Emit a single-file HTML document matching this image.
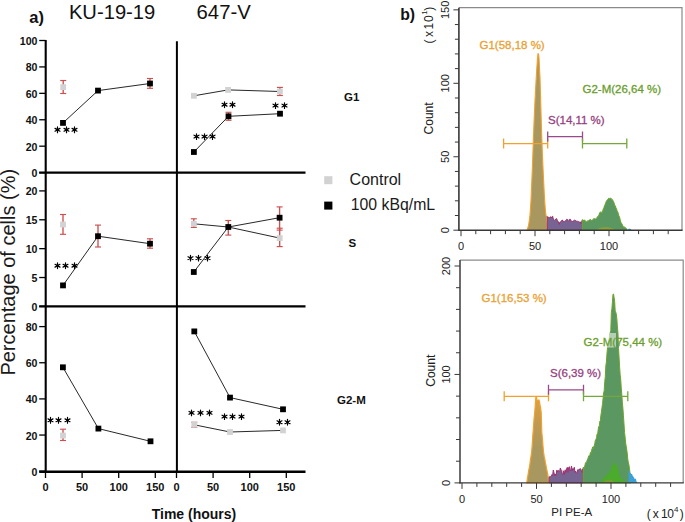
<!DOCTYPE html>
<html><head><meta charset="utf-8"><style>
html,body{margin:0;padding:0;background:#fff;}
body{width:685px;height:522px;overflow:hidden;font-family:"Liberation Sans", sans-serif;}
svg{display:block;}
</style></head><body>
<svg width="685" height="522" viewBox="0 0 685 522" font-family='"Liberation Sans", sans-serif'><rect width="685" height="522" fill="#fff"/><text x="29.3" y="22.5" font-size="16.5" font-weight="bold" text-anchor="start" fill="#111" >a)</text><text x="68.9" y="18.6" font-size="20.2" font-weight="normal" text-anchor="start" fill="#111" >KU-19-19</text><text x="196.6" y="18.8" font-size="20.3" font-weight="normal" text-anchor="start" fill="#111" >647-V</text><text transform="translate(15,375.6) rotate(-90)" font-size="20" fill="#1a1a1a">Percentage of cells (%)</text><line x1="45.7" y1="40.0" x2="45.7" y2="472.5" stroke="#000" stroke-width="2.1" /><line x1="176.9" y1="41.2" x2="176.9" y2="472.5" stroke="#000" stroke-width="2.0" /><line x1="39.2" y1="172.6" x2="305.5" y2="172.6" stroke="#000" stroke-width="2.3" /><line x1="39.2" y1="306.4" x2="305.5" y2="306.4" stroke="#000" stroke-width="2.1" /><line x1="39.2" y1="471.8" x2="305.5" y2="471.8" stroke="#000" stroke-width="2.4" /><line x1="39.2" y1="40.5" x2="45.7" y2="40.5" stroke="#000" stroke-width="1.3" /><text transform="translate(37.5,45.00) scale(0.93,1)" font-size="11.4" font-weight="bold" text-anchor="end" fill="#111">100</text><line x1="39.2" y1="66.92" x2="45.7" y2="66.92" stroke="#000" stroke-width="1.3" /><text transform="translate(37.5,71.42) scale(0.93,1)" font-size="11.4" font-weight="bold" text-anchor="end" fill="#111">80</text><line x1="39.2" y1="93.34" x2="45.7" y2="93.34" stroke="#000" stroke-width="1.3" /><text transform="translate(37.5,97.84) scale(0.93,1)" font-size="11.4" font-weight="bold" text-anchor="end" fill="#111">60</text><line x1="39.2" y1="119.75999999999999" x2="45.7" y2="119.75999999999999" stroke="#000" stroke-width="1.3" /><text transform="translate(37.5,124.26) scale(0.93,1)" font-size="11.4" font-weight="bold" text-anchor="end" fill="#111">40</text><line x1="39.2" y1="146.18" x2="45.7" y2="146.18" stroke="#000" stroke-width="1.3" /><text transform="translate(37.5,150.68) scale(0.93,1)" font-size="11.4" font-weight="bold" text-anchor="end" fill="#111">20</text><line x1="39.2" y1="172.6" x2="45.7" y2="172.6" stroke="#000" stroke-width="1.3" /><text transform="translate(37.5,177.10) scale(0.93,1)" font-size="11.4" font-weight="bold" text-anchor="end" fill="#111">0</text><line x1="39.2" y1="190.89999999999998" x2="45.7" y2="190.89999999999998" stroke="#000" stroke-width="1.3" /><text transform="translate(37.5,195.40) scale(0.93,1)" font-size="11.4" font-weight="bold" text-anchor="end" fill="#111">20</text><line x1="39.2" y1="219.77499999999998" x2="45.7" y2="219.77499999999998" stroke="#000" stroke-width="1.3" /><text transform="translate(37.5,224.27) scale(0.93,1)" font-size="11.4" font-weight="bold" text-anchor="end" fill="#111">15</text><line x1="39.2" y1="248.64999999999998" x2="45.7" y2="248.64999999999998" stroke="#000" stroke-width="1.3" /><text transform="translate(37.5,253.15) scale(0.93,1)" font-size="11.4" font-weight="bold" text-anchor="end" fill="#111">10</text><line x1="39.2" y1="277.525" x2="45.7" y2="277.525" stroke="#000" stroke-width="1.3" /><text transform="translate(37.5,282.02) scale(0.93,1)" font-size="11.4" font-weight="bold" text-anchor="end" fill="#111">5</text><line x1="39.2" y1="306.4" x2="45.7" y2="306.4" stroke="#000" stroke-width="1.3" /><text transform="translate(37.5,310.90) scale(0.93,1)" font-size="11.4" font-weight="bold" text-anchor="end" fill="#111">0</text><line x1="39.2" y1="326.59999999999997" x2="45.7" y2="326.59999999999997" stroke="#000" stroke-width="1.3" /><text transform="translate(37.5,331.10) scale(0.93,1)" font-size="11.4" font-weight="bold" text-anchor="end" fill="#111">80</text><line x1="39.2" y1="362.75" x2="45.7" y2="362.75" stroke="#000" stroke-width="1.3" /><text transform="translate(37.5,367.25) scale(0.93,1)" font-size="11.4" font-weight="bold" text-anchor="end" fill="#111">60</text><line x1="39.2" y1="398.9" x2="45.7" y2="398.9" stroke="#000" stroke-width="1.3" /><text transform="translate(37.5,403.40) scale(0.93,1)" font-size="11.4" font-weight="bold" text-anchor="end" fill="#111">40</text><line x1="39.2" y1="435.04999999999995" x2="45.7" y2="435.04999999999995" stroke="#000" stroke-width="1.3" /><text transform="translate(37.5,439.55) scale(0.93,1)" font-size="11.4" font-weight="bold" text-anchor="end" fill="#111">20</text><line x1="39.2" y1="471.2" x2="45.7" y2="471.2" stroke="#000" stroke-width="1.3" /><text transform="translate(37.5,475.70) scale(0.93,1)" font-size="11.4" font-weight="bold" text-anchor="end" fill="#111">0</text><line x1="45.5" y1="471.5" x2="45.5" y2="478" stroke="#000" stroke-width="1.3" /><text x="45.5" y="490.8" font-size="11" font-weight="bold" text-anchor="middle" fill="#111" >0</text><line x1="82.1" y1="471.5" x2="82.1" y2="478" stroke="#000" stroke-width="1.3" /><text x="82.1" y="490.8" font-size="11" font-weight="bold" text-anchor="middle" fill="#111" >50</text><line x1="118.7" y1="471.5" x2="118.7" y2="478" stroke="#000" stroke-width="1.3" /><text x="118.7" y="490.8" font-size="11" font-weight="bold" text-anchor="middle" fill="#111" >100</text><line x1="155.3" y1="471.5" x2="155.3" y2="478" stroke="#000" stroke-width="1.3" /><text x="155.3" y="490.8" font-size="11" font-weight="bold" text-anchor="middle" fill="#111" >150</text><line x1="176.5" y1="471.5" x2="176.5" y2="478" stroke="#000" stroke-width="1.3" /><text x="176.5" y="490.8" font-size="11" font-weight="bold" text-anchor="middle" fill="#111" >0</text><line x1="213.1" y1="471.5" x2="213.1" y2="478" stroke="#000" stroke-width="1.3" /><text x="213.1" y="490.8" font-size="11" font-weight="bold" text-anchor="middle" fill="#111" >50</text><line x1="249.7" y1="471.5" x2="249.7" y2="478" stroke="#000" stroke-width="1.3" /><text x="249.7" y="490.8" font-size="11" font-weight="bold" text-anchor="middle" fill="#111" >100</text><line x1="286.3" y1="471.5" x2="286.3" y2="478" stroke="#000" stroke-width="1.3" /><text x="286.3" y="490.8" font-size="11" font-weight="bold" text-anchor="middle" fill="#111" >150</text><text x="194" y="518.6" font-size="14" font-weight="bold" text-anchor="middle" fill="#111" >Time (hours)</text><g stroke="#cc5050" stroke-width="1.15" fill="none"><line x1="63.2" y1="80.5" x2="63.2" y2="93.5" stroke-width="1.35"/><line x1="60.2" y1="80.5" x2="66.2" y2="80.5"/><line x1="60.2" y1="93.5" x2="66.2" y2="93.5"/></g><rect x="60.30" y="84.20" width="5.8" height="5.8" fill="#d2d2d2"/><g stroke="#cc5050" stroke-width="1.15" fill="none"><line x1="150" y1="78.5" x2="150" y2="88.3" stroke-width="1.35"/><line x1="147.0" y1="78.5" x2="153.0" y2="78.5"/><line x1="147.0" y1="88.3" x2="153.0" y2="88.3"/></g><polyline points="63.00,122.90 98.00,90.60 150.00,83.50" fill="none" stroke="#1c1c1c" stroke-width="0.95"/><rect x="60.10" y="120.00" width="5.8" height="5.8" fill="#000"/><rect x="95.10" y="87.70" width="5.8" height="5.8" fill="#000"/><rect x="147.10" y="80.60" width="5.8" height="5.8" fill="#000"/><path d="M57.50 126.95L57.50 132.65M55.03 128.38L59.97 131.23M55.03 131.23L59.97 128.38" stroke="#000" stroke-width="1.2" stroke-linecap="round" fill="none"/><circle cx="57.50" cy="129.80" r="1.3" fill="#000"/><path d="M66.50 126.95L66.50 132.65M64.03 128.38L68.97 131.23M64.03 131.23L68.97 128.38" stroke="#000" stroke-width="1.2" stroke-linecap="round" fill="none"/><circle cx="66.50" cy="129.80" r="1.3" fill="#000"/><path d="M74.50 126.95L74.50 132.65M72.03 128.38L76.97 131.23M72.03 131.23L76.97 128.38" stroke="#000" stroke-width="1.2" stroke-linecap="round" fill="none"/><circle cx="74.50" cy="129.80" r="1.3" fill="#000"/><polyline points="193.90,95.80 228.10,89.90 279.90,91.50" fill="none" stroke="#1c1c1c" stroke-width="0.95"/><g stroke="#cc5050" stroke-width="1.15" fill="none"><line x1="279.9" y1="87.4" x2="279.9" y2="95.5" stroke-width="1.35"/><line x1="276.9" y1="87.4" x2="282.9" y2="87.4"/><line x1="276.9" y1="95.5" x2="282.9" y2="95.5"/></g><rect x="191.00" y="92.90" width="5.8" height="5.8" fill="#d2d2d2"/><rect x="225.20" y="87.00" width="5.8" height="5.8" fill="#d2d2d2"/><rect x="277.00" y="88.60" width="5.8" height="5.8" fill="#d2d2d2"/><g stroke="#cc5050" stroke-width="1.15" fill="none"><line x1="228.5" y1="112.3" x2="228.5" y2="120.3" stroke-width="1.35"/><line x1="225.5" y1="112.3" x2="231.5" y2="112.3"/><line x1="225.5" y1="120.3" x2="231.5" y2="120.3"/></g><polyline points="193.90,152.00 228.50,116.30 280.00,113.70" fill="none" stroke="#1c1c1c" stroke-width="0.95"/><rect x="191.00" y="149.10" width="5.8" height="5.8" fill="#000"/><rect x="225.60" y="113.40" width="5.8" height="5.8" fill="#000"/><rect x="277.10" y="110.80" width="5.8" height="5.8" fill="#000"/><path d="M196.50 133.75L196.50 139.45M194.03 135.17L198.97 138.03M194.03 138.03L198.97 135.17" stroke="#000" stroke-width="1.2" stroke-linecap="round" fill="none"/><circle cx="196.50" cy="136.60" r="1.3" fill="#000"/><path d="M204.50 133.75L204.50 139.45M202.03 135.17L206.97 138.03M202.03 138.03L206.97 135.17" stroke="#000" stroke-width="1.2" stroke-linecap="round" fill="none"/><circle cx="204.50" cy="136.60" r="1.3" fill="#000"/><path d="M212.50 133.75L212.50 139.45M210.03 135.17L214.97 138.03M210.03 138.03L214.97 135.17" stroke="#000" stroke-width="1.2" stroke-linecap="round" fill="none"/><circle cx="212.50" cy="136.60" r="1.3" fill="#000"/><path d="M224.50 101.85L224.50 107.55M222.03 103.28L226.97 106.12M222.03 106.12L226.97 103.28" stroke="#000" stroke-width="1.2" stroke-linecap="round" fill="none"/><circle cx="224.50" cy="104.70" r="1.3" fill="#000"/><path d="M232.50 101.85L232.50 107.55M230.03 103.28L234.97 106.12M230.03 106.12L234.97 103.28" stroke="#000" stroke-width="1.2" stroke-linecap="round" fill="none"/><circle cx="232.50" cy="104.70" r="1.3" fill="#000"/><path d="M275.50 102.75L275.50 108.45M273.03 104.17L277.97 107.02M273.03 107.02L277.97 104.17" stroke="#000" stroke-width="1.2" stroke-linecap="round" fill="none"/><circle cx="275.50" cy="105.60" r="1.3" fill="#000"/><path d="M284.50 102.75L284.50 108.45M282.03 104.17L286.97 107.02M282.03 107.02L286.97 104.17" stroke="#000" stroke-width="1.2" stroke-linecap="round" fill="none"/><circle cx="284.50" cy="105.60" r="1.3" fill="#000"/><g stroke="#cc5050" stroke-width="1.15" fill="none"><line x1="63" y1="214.5" x2="63" y2="234.3" stroke-width="1.35"/><line x1="60.0" y1="214.5" x2="66.0" y2="214.5"/><line x1="60.0" y1="234.3" x2="66.0" y2="234.3"/></g><rect x="60.10" y="221.60" width="5.8" height="5.8" fill="#d2d2d2"/><g stroke="#cc5050" stroke-width="1.15" fill="none"><line x1="98" y1="225.1" x2="98" y2="247" stroke-width="1.35"/><line x1="95.0" y1="225.1" x2="101.0" y2="225.1"/><line x1="95.0" y1="247" x2="101.0" y2="247"/></g><g stroke="#cc5050" stroke-width="1.15" fill="none"><line x1="150" y1="238.8" x2="150" y2="248.2" stroke-width="1.35"/><line x1="147.0" y1="238.8" x2="153.0" y2="238.8"/><line x1="147.0" y1="248.2" x2="153.0" y2="248.2"/></g><polyline points="63.00,285.40 98.00,236.20 150.00,243.70" fill="none" stroke="#1c1c1c" stroke-width="0.95"/><rect x="60.10" y="282.50" width="5.8" height="5.8" fill="#000"/><rect x="95.10" y="233.30" width="5.8" height="5.8" fill="#000"/><rect x="147.10" y="240.80" width="5.8" height="5.8" fill="#000"/><path d="M57.50 262.85L57.50 268.55M55.03 264.27L59.97 267.12M55.03 267.12L59.97 264.27" stroke="#000" stroke-width="1.2" stroke-linecap="round" fill="none"/><circle cx="57.50" cy="265.70" r="1.3" fill="#000"/><path d="M65.50 262.85L65.50 268.55M63.03 264.27L67.97 267.12M63.03 267.12L67.97 264.27" stroke="#000" stroke-width="1.2" stroke-linecap="round" fill="none"/><circle cx="65.50" cy="265.70" r="1.3" fill="#000"/><path d="M74.50 262.85L74.50 268.55M72.03 264.27L76.97 267.12M72.03 267.12L76.97 264.27" stroke="#000" stroke-width="1.2" stroke-linecap="round" fill="none"/><circle cx="74.50" cy="265.70" r="1.3" fill="#000"/><g stroke="#cc5050" stroke-width="1.15" fill="none"><line x1="193.8" y1="218.8" x2="193.8" y2="227.4" stroke-width="1.35"/><line x1="190.8" y1="218.8" x2="196.8" y2="218.8"/><line x1="190.8" y1="227.4" x2="196.8" y2="227.4"/></g><g stroke="#cc5050" stroke-width="1.15" fill="none"><line x1="279.7" y1="228.2" x2="279.7" y2="246.6" stroke-width="1.35"/><line x1="276.7" y1="228.2" x2="282.7" y2="228.2"/><line x1="276.7" y1="246.6" x2="282.7" y2="246.6"/></g><polyline points="193.80,223.80 228.30,227.00 279.70,238.10" fill="none" stroke="#1c1c1c" stroke-width="0.95"/><rect x="190.90" y="220.90" width="5.8" height="5.8" fill="#d2d2d2"/><rect x="276.80" y="235.20" width="5.8" height="5.8" fill="#d2d2d2"/><g stroke="#cc5050" stroke-width="1.15" fill="none"><line x1="228.3" y1="220.5" x2="228.3" y2="235.1" stroke-width="1.35"/><line x1="225.3" y1="220.5" x2="231.3" y2="220.5"/><line x1="225.3" y1="235.1" x2="231.3" y2="235.1"/></g><g stroke="#cc5050" stroke-width="1.15" fill="none"><line x1="279.6" y1="206.9" x2="279.6" y2="230.1" stroke-width="1.35"/><line x1="276.6" y1="206.9" x2="282.6" y2="206.9"/><line x1="276.6" y1="230.1" x2="282.6" y2="230.1"/></g><polyline points="193.80,272.00 228.30,227.00 279.60,217.70" fill="none" stroke="#1c1c1c" stroke-width="0.95"/><rect x="190.90" y="269.10" width="5.8" height="5.8" fill="#000"/><rect x="225.40" y="224.10" width="5.8" height="5.8" fill="#000"/><rect x="276.70" y="214.80" width="5.8" height="5.8" fill="#000"/><path d="M190.50 255.25L190.50 260.95M188.03 256.68L192.97 259.53M188.03 259.53L192.97 256.68" stroke="#000" stroke-width="1.2" stroke-linecap="round" fill="none"/><circle cx="190.50" cy="258.10" r="1.3" fill="#000"/><path d="M198.50 255.25L198.50 260.95M196.03 256.68L200.97 259.53M196.03 259.53L200.97 256.68" stroke="#000" stroke-width="1.2" stroke-linecap="round" fill="none"/><circle cx="198.50" cy="258.10" r="1.3" fill="#000"/><path d="M207.50 255.25L207.50 260.95M205.03 256.68L209.97 259.53M205.03 259.53L209.97 256.68" stroke="#000" stroke-width="1.2" stroke-linecap="round" fill="none"/><circle cx="207.50" cy="258.10" r="1.3" fill="#000"/><g stroke="#cc5050" stroke-width="1.15" fill="none"><line x1="63" y1="429.2" x2="63" y2="440.5" stroke-width="1.35"/><line x1="60.0" y1="429.2" x2="66.0" y2="429.2"/><line x1="60.0" y1="440.5" x2="66.0" y2="440.5"/></g><rect x="60.10" y="432.60" width="5.8" height="5.8" fill="#d2d2d2"/><polyline points="62.90,367.30 98.40,428.60 150.50,441.30" fill="none" stroke="#1c1c1c" stroke-width="0.95"/><rect x="60.00" y="364.40" width="5.8" height="5.8" fill="#000"/><rect x="95.50" y="425.70" width="5.8" height="5.8" fill="#000"/><rect x="147.60" y="438.40" width="5.8" height="5.8" fill="#000"/><path d="M50.50 417.45L50.50 423.15M48.03 418.88L52.97 421.73M48.03 421.73L52.97 418.88" stroke="#000" stroke-width="1.2" stroke-linecap="round" fill="none"/><circle cx="50.50" cy="420.30" r="1.3" fill="#000"/><path d="M58.50 417.45L58.50 423.15M56.03 418.88L60.97 421.73M56.03 421.73L60.97 418.88" stroke="#000" stroke-width="1.2" stroke-linecap="round" fill="none"/><circle cx="58.50" cy="420.30" r="1.3" fill="#000"/><path d="M67.50 417.45L67.50 423.15M65.03 418.88L69.97 421.73M65.03 421.73L69.97 418.88" stroke="#000" stroke-width="1.2" stroke-linecap="round" fill="none"/><circle cx="67.50" cy="420.30" r="1.3" fill="#000"/><g stroke="#cc5050" stroke-width="1.15" fill="none"><line x1="194.3" y1="422.3" x2="194.3" y2="427.3" stroke-width="1.35"/><line x1="191.3" y1="422.3" x2="197.3" y2="422.3"/><line x1="191.3" y1="427.3" x2="197.3" y2="427.3"/></g><polyline points="194.30,424.80 230.00,432.00 283.00,430.40" fill="none" stroke="#1c1c1c" stroke-width="0.95"/><rect x="191.40" y="421.90" width="5.8" height="5.8" fill="#d2d2d2"/><rect x="227.10" y="429.10" width="5.8" height="5.8" fill="#d2d2d2"/><rect x="280.10" y="427.50" width="5.8" height="5.8" fill="#d2d2d2"/><polyline points="194.30,331.40 230.00,397.60 283.00,409.30" fill="none" stroke="#1c1c1c" stroke-width="0.95"/><rect x="191.40" y="328.50" width="5.8" height="5.8" fill="#000"/><rect x="227.10" y="394.70" width="5.8" height="5.8" fill="#000"/><rect x="280.10" y="406.40" width="5.8" height="5.8" fill="#000"/><path d="M191.50 410.05L191.50 415.75M189.03 411.47L193.97 414.32M189.03 414.32L193.97 411.47" stroke="#000" stroke-width="1.2" stroke-linecap="round" fill="none"/><circle cx="191.50" cy="412.90" r="1.3" fill="#000"/><path d="M200.50 410.05L200.50 415.75M198.03 411.47L202.97 414.32M198.03 414.32L202.97 411.47" stroke="#000" stroke-width="1.2" stroke-linecap="round" fill="none"/><circle cx="200.50" cy="412.90" r="1.3" fill="#000"/><path d="M209.50 410.05L209.50 415.75M207.03 411.47L211.97 414.32M207.03 414.32L211.97 411.47" stroke="#000" stroke-width="1.2" stroke-linecap="round" fill="none"/><circle cx="209.50" cy="412.90" r="1.3" fill="#000"/><path d="M224.50 413.75L224.50 419.45M222.03 415.18L226.97 418.03M222.03 418.03L226.97 415.18" stroke="#000" stroke-width="1.2" stroke-linecap="round" fill="none"/><circle cx="224.50" cy="416.60" r="1.3" fill="#000"/><path d="M232.50 413.75L232.50 419.45M230.03 415.18L234.97 418.03M230.03 418.03L234.97 415.18" stroke="#000" stroke-width="1.2" stroke-linecap="round" fill="none"/><circle cx="232.50" cy="416.60" r="1.3" fill="#000"/><path d="M241.50 413.75L241.50 419.45M239.03 415.18L243.97 418.03M239.03 418.03L243.97 415.18" stroke="#000" stroke-width="1.2" stroke-linecap="round" fill="none"/><circle cx="241.50" cy="416.60" r="1.3" fill="#000"/><path d="M279.50 419.35L279.50 425.05M277.03 420.77L281.97 423.62M277.03 423.62L281.97 420.77" stroke="#000" stroke-width="1.2" stroke-linecap="round" fill="none"/><circle cx="279.50" cy="422.20" r="1.3" fill="#000"/><path d="M287.50 419.35L287.50 425.05M285.03 420.77L289.97 423.62M285.03 423.62L289.97 420.77" stroke="#000" stroke-width="1.2" stroke-linecap="round" fill="none"/><circle cx="287.50" cy="422.20" r="1.3" fill="#000"/><rect x="324.2" y="176.2" width="8.2" height="8" fill="#d2d2d2"/><rect x="324.2" y="201.6" width="8.2" height="8" fill="#000"/><text x="349.6" y="185.1" font-size="16" font-weight="normal" text-anchor="start" fill="#1a1a1a" >Control</text><text x="350.8" y="210.2" font-size="15.8" font-weight="normal" text-anchor="start" fill="#1a1a1a" >100 kBq/mL</text><text x="344" y="101.2" font-size="11.5" font-weight="bold" text-anchor="start" fill="#111" >G1</text><text x="348.5" y="247" font-size="11.5" font-weight="bold" text-anchor="start" fill="#111" >S</text><text x="337" y="403.8" font-size="11.5" font-weight="bold" text-anchor="start" fill="#111" >G2-M</text><text x="400.2" y="19.5" font-size="15.8" font-weight="bold" text-anchor="start" fill="#111" >b)</text><path d="M527.00 230.20 L527.00 230.20 L527.50 229.07 L528.00 227.13 L528.50 225.75 L529.00 222.53 L529.50 218.81 L530.00 215.10 L530.50 207.63 L531.00 200.56 L531.50 188.73 L532.00 176.88 L532.50 164.80 L533.00 150.38 L533.50 135.77 L534.00 123.21 L534.50 111.84 L535.00 100.27 L535.50 91.10 L536.00 82.11 L536.50 73.32 L537.00 65.45 L537.50 57.72 L538.00 53.62 L538.50 54.08 L539.00 57.93 L539.50 68.24 L540.00 78.02 L540.50 95.37 L541.00 112.51 L541.50 129.71 L542.00 143.53 L542.50 157.05 L543.00 168.11 L543.50 178.52 L544.00 188.45 L544.50 198.28 L545.00 205.57 L545.50 211.55 L546.00 215.54 L546.50 216.64 L547.00 223.76 L547.20 230.20 L547.20 230.20Z" fill="#a8975f" stroke="#f2a12e" stroke-width="1.1" stroke-linejoin="round"/><path d="M547.30 230.20 L547.30 216.53 L547.90 217.26 L548.50 217.12 L549.10 217.71 L549.70 217.87 L550.30 216.98 L550.90 216.73 L551.50 217.93 L552.10 216.60 L552.70 216.27 L553.30 219.09 L553.90 219.95 L554.50 220.39 L555.10 219.53 L555.70 219.59 L556.30 218.47 L556.90 219.32 L557.50 220.79 L558.10 221.27 L558.70 223.05 L559.30 224.31 L559.90 221.97 L560.50 221.96 L561.10 221.32 L561.70 220.46 L562.30 220.00 L562.90 221.72 L563.50 221.08 L564.10 221.33 L564.70 221.42 L565.30 220.71 L565.90 220.63 L566.50 219.40 L567.10 219.87 L567.70 219.52 L568.30 221.23 L568.90 221.45 L569.50 219.34 L570.10 219.12 L570.70 219.78 L571.30 221.64 L571.90 220.93 L572.50 221.51 L573.10 220.86 L573.70 220.87 L574.30 220.29 L574.90 220.15 L575.50 220.49 L576.10 220.63 L576.70 221.55 L577.30 221.24 L577.90 221.50 L578.50 221.61 L579.10 222.17 L579.70 222.05 L580.30 221.87 L580.90 223.85 L581.50 222.10 L582.10 220.97 L582.30 220.20 L582.30 230.20Z" fill="#786492" stroke="#9a3070" stroke-width="1" stroke-linejoin="round"/><path d="M582.30 230.20 L582.30 219.72 L582.90 219.65 L583.50 220.34 L584.10 220.07 L584.70 220.06 L585.30 220.77 L585.90 221.80 L586.50 221.70 L587.10 221.74 L587.70 220.65 L588.30 220.99 L588.90 220.29 L589.50 219.88 L590.10 219.53 L590.70 219.52 L591.30 220.60 L591.90 220.23 L592.50 220.00 L593.10 219.81 L593.70 218.54 L594.30 218.55 L594.90 218.91 L595.50 218.89 L596.10 218.87 L596.70 218.48 L597.30 216.62 L597.90 216.99 L598.50 215.91 L599.10 214.41 L599.70 212.62 L600.30 212.74 L600.90 211.63 L601.50 212.85 L602.10 212.44 L602.70 211.04 L603.30 208.67 L603.90 207.84 L604.50 205.54 L605.10 204.43 L605.70 202.79 L606.30 201.25 L606.90 200.28 L607.50 199.94 L608.10 198.98 L608.70 198.24 L609.30 198.31 L609.90 199.26 L610.50 198.03 L611.10 198.18 L611.70 199.67 L612.30 199.49 L612.90 200.39 L613.50 201.61 L614.10 202.90 L614.70 205.59 L615.30 205.67 L615.90 207.59 L616.50 208.67 L617.10 210.90 L617.70 211.79 L618.30 213.48 L618.90 215.90 L619.50 216.89 L620.10 219.37 L620.70 222.11 L621.30 222.78 L621.90 223.90 L622.50 224.92 L623.10 226.61 L623.70 226.95 L624.30 226.76 L624.90 227.41 L625.50 227.68 L626.10 228.73 L626.70 228.73 L627.20 230.20 L627.20 230.20Z" fill="#5b9760" stroke="#6ca52a" stroke-width="1" stroke-linejoin="round"/><path d="M596.5 230.2 C600 226.5 610 225.5 615.5 230.2Z" fill="#86a03a"/><path d="M627.5 230.2 L629 228.4 L631 229.2 L631.5 230.2Z" fill="#2ea0d8"/><path d="M458.9 7.7H682.0V230.2" stroke="#8a8a8a" stroke-width="1.2" fill="none"/><line x1="458.9" y1="7.7" x2="458.9" y2="230.79999999999998" stroke="#383838" stroke-width="1.6" /><line x1="458.29999999999995" y1="230.2" x2="682.6" y2="230.2" stroke="#383838" stroke-width="1.4" /><line x1="453.4" y1="230.2" x2="458.9" y2="230.2" stroke="#383838" stroke-width="1" /><line x1="454.9" y1="215.51" x2="458.9" y2="215.51" stroke="#383838" stroke-width="1" /><line x1="454.9" y1="200.82" x2="458.9" y2="200.82" stroke="#383838" stroke-width="1" /><line x1="454.9" y1="186.13" x2="458.9" y2="186.13" stroke="#383838" stroke-width="1" /><line x1="454.9" y1="171.44" x2="458.9" y2="171.44" stroke="#383838" stroke-width="1" /><line x1="453.4" y1="156.75" x2="458.9" y2="156.75" stroke="#383838" stroke-width="1" /><line x1="454.9" y1="142.06" x2="458.9" y2="142.06" stroke="#383838" stroke-width="1" /><line x1="454.9" y1="127.36999999999998" x2="458.9" y2="127.36999999999998" stroke="#383838" stroke-width="1" /><line x1="454.9" y1="112.67999999999998" x2="458.9" y2="112.67999999999998" stroke="#383838" stroke-width="1" /><line x1="454.9" y1="97.98999999999998" x2="458.9" y2="97.98999999999998" stroke="#383838" stroke-width="1" /><line x1="453.4" y1="83.29999999999998" x2="458.9" y2="83.29999999999998" stroke="#383838" stroke-width="1" /><line x1="454.9" y1="68.60999999999999" x2="458.9" y2="68.60999999999999" stroke="#383838" stroke-width="1" /><line x1="454.9" y1="53.91999999999999" x2="458.9" y2="53.91999999999999" stroke="#383838" stroke-width="1" /><line x1="454.9" y1="39.22999999999999" x2="458.9" y2="39.22999999999999" stroke="#383838" stroke-width="1" /><line x1="454.9" y1="24.539999999999964" x2="458.9" y2="24.539999999999964" stroke="#383838" stroke-width="1" /><line x1="453.4" y1="9.849999999999966" x2="458.9" y2="9.849999999999966" stroke="#383838" stroke-width="1" /><line x1="461.0" y1="230.2" x2="461.0" y2="236.2" stroke="#383838" stroke-width="1" /><line x1="475.8" y1="230.2" x2="475.8" y2="234.2" stroke="#383838" stroke-width="1" /><line x1="490.6" y1="230.2" x2="490.6" y2="234.2" stroke="#383838" stroke-width="1" /><line x1="505.4" y1="230.2" x2="505.4" y2="234.2" stroke="#383838" stroke-width="1" /><line x1="520.2" y1="230.2" x2="520.2" y2="234.2" stroke="#383838" stroke-width="1" /><line x1="535.0" y1="230.2" x2="535.0" y2="236.2" stroke="#383838" stroke-width="1" /><line x1="549.8" y1="230.2" x2="549.8" y2="234.2" stroke="#383838" stroke-width="1" /><line x1="564.6" y1="230.2" x2="564.6" y2="234.2" stroke="#383838" stroke-width="1" /><line x1="579.4" y1="230.2" x2="579.4" y2="234.2" stroke="#383838" stroke-width="1" /><line x1="594.2" y1="230.2" x2="594.2" y2="234.2" stroke="#383838" stroke-width="1" /><line x1="609.0" y1="230.2" x2="609.0" y2="236.2" stroke="#383838" stroke-width="1" /><line x1="623.8" y1="230.2" x2="623.8" y2="234.2" stroke="#383838" stroke-width="1" /><line x1="638.6" y1="230.2" x2="638.6" y2="234.2" stroke="#383838" stroke-width="1" /><line x1="653.4" y1="230.2" x2="653.4" y2="234.2" stroke="#383838" stroke-width="1" /><line x1="668.2" y1="230.2" x2="668.2" y2="234.2" stroke="#383838" stroke-width="1" /><text transform="translate(449.4,230.20) rotate(-90)" font-size="11" text-anchor="middle" fill="#222">0</text><text transform="translate(449.4,156.75) rotate(-90)" font-size="11" text-anchor="middle" fill="#222">50</text><text transform="translate(449.4,83.30) rotate(-90)" font-size="11" text-anchor="middle" fill="#222">100</text><text transform="translate(449.4,9.85) rotate(-90)" font-size="11" text-anchor="middle" fill="#222">150</text><text x="461.0" y="250" font-size="11" font-weight="normal" text-anchor="middle" fill="#222" >0</text><text x="535.0" y="250" font-size="11" font-weight="normal" text-anchor="middle" fill="#222" >50</text><text x="609.0" y="250" font-size="11" font-weight="normal" text-anchor="middle" fill="#222" >100</text><text transform="translate(432.9,118.4) rotate(-90)" font-size="12" text-anchor="middle" fill="#222" stroke="#222" stroke-width="0.08">Count</text><g transform="translate(432.6,0) rotate(-90)" fill="#222" font-size="12"><text x="-43.5" y="0">(</text><text x="-36.9" y="0">x</text><text x="-29.4" y="0">1</text><text x="-22.1" y="0">0</text><text x="-14.7" y="-5.8" font-size="8">1</text><text x="-10.7" y="0">)</text></g><path d="M503.6 143.6H547.7M503.6 138.6V148.6M547.7 138.6V148.6" stroke="#f2a12e" stroke-width="1.3" fill="none"/><path d="M547.7 136.6H582.5M547.7 131.6V141.6M582.5 131.6V141.6" stroke="#9a4a8a" stroke-width="1.3" fill="none"/><path d="M582.5 143.6H626.8M582.5 138.6V148.6M626.8 138.6V148.6" stroke="#74a83a" stroke-width="1.3" fill="none"/><text x="479.5" y="48.6" font-size="11.5" font-weight="normal" text-anchor="start" fill="#eba030" stroke="#eba030" stroke-width="0.3">G1(58,18 %)</text><text x="548" y="124.2" font-size="11.5" font-weight="normal" text-anchor="start" fill="#963f80" stroke="#963f80" stroke-width="0.3">S(14,11 %)</text><text x="582.5" y="93.2" font-size="11.5" font-weight="normal" text-anchor="start" fill="#6a9e2c" stroke="#6a9e2c" stroke-width="0.3">G2-M(26,64 %)</text><defs><linearGradient id="g1g" gradientUnits="userSpaceOnUse" x1="0" y1="395" x2="0" y2="450"><stop offset="0" stop-color="#e3a03c"/><stop offset="0.45" stop-color="#c39a50"/><stop offset="1" stop-color="#a8975f"/></linearGradient></defs><path d="M526.80 482.90 L526.80 482.82 L527.40 478.38 L528.00 474.98 L528.60 471.09 L529.20 468.14 L529.80 465.07 L530.40 459.87 L531.00 456.32 L531.60 452.33 L532.20 445.21 L532.80 435.59 L533.40 428.25 L534.00 419.24 L534.60 413.77 L535.20 406.30 L535.80 397.55 L536.40 396.45 L537.00 400.21 L537.60 400.63 L538.20 400.67 L538.80 399.85 L539.40 401.18 L540.00 405.11 L540.60 407.72 L541.20 412.66 L541.80 432.20 L542.40 438.35 L543.00 446.31 L543.60 452.39 L544.20 456.63 L544.80 459.12 L545.40 462.65 L546.00 465.60 L546.60 468.96 L547.20 471.58 L547.80 474.29 L548.40 479.90 L548.90 482.90 L548.90 482.90Z" fill="url(#g1g)" stroke="#f2a12e" stroke-width="1.2" stroke-linejoin="round"/><path d="M549.10 482.90 L549.10 476.79 L549.80 476.82 L550.50 476.44 L551.20 476.66 L551.90 474.64 L552.60 475.70 L553.30 469.99 L554.00 472.78 L554.70 475.84 L555.40 473.95 L556.10 475.52 L556.80 470.12 L557.50 472.05 L558.20 470.28 L558.90 471.83 L559.60 471.67 L560.30 468.03 L561.00 469.69 L561.70 470.44 L562.40 474.86 L563.10 474.25 L563.80 470.72 L564.50 474.53 L565.20 469.79 L565.90 472.33 L566.60 468.66 L567.30 467.34 L568.00 472.38 L568.70 467.44 L569.40 466.78 L570.10 470.99 L570.80 469.58 L571.50 465.98 L572.20 470.75 L572.90 468.52 L573.60 469.87 L574.30 467.26 L575.00 472.32 L575.70 471.07 L576.40 473.19 L577.10 473.07 L577.80 469.61 L578.50 470.21 L579.20 469.09 L579.90 469.09 L580.60 468.71 L581.30 470.35 L582.00 472.41 L582.70 468.71 L583.30 472.00 L583.30 482.90Z" fill="#786492" stroke="#9a3070" stroke-width="1" stroke-linejoin="round"/><path d="M583.30 482.90 L583.30 467.08 L583.85 468.45 L584.40 467.34 L584.95 465.20 L585.50 462.74 L586.05 462.77 L586.60 461.89 L587.15 460.11 L587.70 459.16 L588.25 457.44 L588.80 455.81 L589.35 455.82 L589.90 455.19 L590.45 452.30 L591.00 453.27 L591.55 450.21 L592.10 448.90 L592.65 446.90 L593.20 448.62 L593.75 446.41 L594.30 445.50 L594.85 443.26 L595.40 439.92 L595.95 439.54 L596.50 437.75 L597.05 433.93 L597.60 434.45 L598.15 429.87 L598.70 426.60 L599.25 426.62 L599.80 421.29 L600.35 420.73 L600.90 415.18 L601.45 411.90 L602.00 407.34 L602.55 403.67 L603.10 398.10 L603.65 392.96 L604.20 390.62 L604.75 381.51 L605.30 376.82 L605.85 365.59 L606.40 361.96 L606.95 353.97 L607.50 348.03 L608.05 344.95 L608.60 340.76 L609.15 338.80 L609.70 333.16 L610.25 333.23 L610.80 330.63 L611.35 312.52 L611.90 308.70 L612.45 301.75 L613.00 294.15 L613.55 294.11 L614.10 297.59 L614.65 301.34 L615.20 311.13 L615.75 312.18 L616.30 314.12 L616.85 318.80 L617.40 326.91 L617.95 332.78 L618.50 348.28 L619.05 357.19 L619.60 366.44 L620.15 374.73 L620.70 379.09 L621.25 387.90 L621.80 394.59 L622.35 402.39 L622.90 408.17 L623.45 415.83 L624.00 424.01 L624.55 432.66 L625.10 437.09 L625.65 443.00 L626.20 446.24 L626.75 449.82 L627.30 453.94 L627.85 459.78 L628.40 462.86 L628.95 464.92 L629.50 469.14 L630.05 473.15 L630.60 478.39 L631.00 482.90 L631.00 482.90Z" fill="#5b9760" stroke="#6ca52a" stroke-width="1" stroke-linejoin="round"/><path d="M601.50 482.90 L601.50 481.34 L602.00 480.36 L602.50 479.96 L603.00 479.59 L603.50 477.27 L604.00 476.61 L604.50 476.42 L605.00 477.52 L605.50 475.12 L606.00 476.57 L606.50 475.87 L607.00 473.74 L607.50 474.56 L608.00 473.83 L608.50 473.17 L609.00 474.49 L609.50 471.05 L610.00 470.27 L610.50 471.76 L611.00 468.59 L611.50 466.49 L612.00 465.46 L612.50 464.40 L613.00 465.12 L613.50 461.57 L614.00 462.43 L614.50 464.44 L615.00 465.15 L615.50 465.20 L616.00 463.58 L616.50 463.79 L617.00 465.05 L617.50 468.08 L618.00 469.56 L618.50 468.50 L619.00 472.75 L619.50 475.18 L620.00 476.48 L620.50 475.85 L621.00 478.45 L621.50 478.99 L622.00 478.02 L622.50 480.10 L623.00 479.40 L623.50 479.48 L624.00 481.08 L624.50 481.72 L625.00 482.90 L625.00 482.90Z" fill="#4aab2c" stroke="none" stroke-width="0" stroke-linejoin="round"/><path d="M603 482.9 L605 480.5 L609 479.5 L613 480.5 L614.5 482.9Z" fill="#8a9a35" opacity="0.7"/><path d="M628.60 482.90 L628.60 470.67 L629.10 470.60 L629.60 470.78 L630.10 473.27 L630.60 472.88 L631.10 473.74 L631.60 473.91 L632.10 474.01 L632.60 475.69 L633.10 475.95 L633.60 477.23 L634.10 477.62 L634.60 478.95 L635.10 478.66 L635.60 478.71 L636.10 479.59 L636.60 482.09 L637.10 481.43 L637.40 482.90 L637.40 482.90Z" fill="#3c9fd6" stroke="none" stroke-width="0" stroke-linejoin="round"/><path d="M460.0 260.1H683.2V482.9" stroke="#8a8a8a" stroke-width="1.2" fill="none"/><line x1="460.0" y1="260.1" x2="460.0" y2="483.5" stroke="#484848" stroke-width="1.6" /><line x1="459.4" y1="482.9" x2="683.8000000000001" y2="482.9" stroke="#383838" stroke-width="1.4" /><line x1="454.5" y1="482.9" x2="460.0" y2="482.9" stroke="#383838" stroke-width="1" /><line x1="456.0" y1="461.21" x2="460.0" y2="461.21" stroke="#383838" stroke-width="1" /><line x1="456.0" y1="439.52" x2="460.0" y2="439.52" stroke="#383838" stroke-width="1" /><line x1="456.0" y1="417.83" x2="460.0" y2="417.83" stroke="#383838" stroke-width="1" /><line x1="456.0" y1="396.14" x2="460.0" y2="396.14" stroke="#383838" stroke-width="1" /><line x1="454.5" y1="374.45" x2="460.0" y2="374.45" stroke="#383838" stroke-width="1" /><line x1="456.0" y1="352.76" x2="460.0" y2="352.76" stroke="#383838" stroke-width="1" /><line x1="456.0" y1="331.06999999999994" x2="460.0" y2="331.06999999999994" stroke="#383838" stroke-width="1" /><line x1="456.0" y1="309.38" x2="460.0" y2="309.38" stroke="#383838" stroke-width="1" /><line x1="456.0" y1="287.68999999999994" x2="460.0" y2="287.68999999999994" stroke="#383838" stroke-width="1" /><line x1="454.5" y1="266.0" x2="460.0" y2="266.0" stroke="#383838" stroke-width="1" /><line x1="462.0" y1="482.9" x2="462.0" y2="488.9" stroke="#383838" stroke-width="1" /><line x1="476.9" y1="482.9" x2="476.9" y2="486.9" stroke="#383838" stroke-width="1" /><line x1="491.8" y1="482.9" x2="491.8" y2="486.9" stroke="#383838" stroke-width="1" /><line x1="506.7" y1="482.9" x2="506.7" y2="486.9" stroke="#383838" stroke-width="1" /><line x1="521.6" y1="482.9" x2="521.6" y2="486.9" stroke="#383838" stroke-width="1" /><line x1="536.5" y1="482.9" x2="536.5" y2="488.9" stroke="#383838" stroke-width="1" /><line x1="551.4" y1="482.9" x2="551.4" y2="486.9" stroke="#383838" stroke-width="1" /><line x1="566.3" y1="482.9" x2="566.3" y2="486.9" stroke="#383838" stroke-width="1" /><line x1="581.2" y1="482.9" x2="581.2" y2="486.9" stroke="#383838" stroke-width="1" /><line x1="596.1" y1="482.9" x2="596.1" y2="486.9" stroke="#383838" stroke-width="1" /><line x1="611.0" y1="482.9" x2="611.0" y2="488.9" stroke="#383838" stroke-width="1" /><line x1="625.9" y1="482.9" x2="625.9" y2="486.9" stroke="#383838" stroke-width="1" /><line x1="640.8" y1="482.9" x2="640.8" y2="486.9" stroke="#383838" stroke-width="1" /><line x1="655.7" y1="482.9" x2="655.7" y2="486.9" stroke="#383838" stroke-width="1" /><line x1="670.6" y1="482.9" x2="670.6" y2="486.9" stroke="#383838" stroke-width="1" /><text transform="translate(449.8,482.90) rotate(-90)" font-size="11" text-anchor="middle" fill="#222">0</text><text transform="translate(449.8,374.45) rotate(-90)" font-size="11" text-anchor="middle" fill="#222">100</text><text transform="translate(449.8,266.00) rotate(-90)" font-size="11" text-anchor="middle" fill="#222">200</text><text x="462.0" y="502.6" font-size="11" font-weight="normal" text-anchor="middle" fill="#222" >0</text><text x="536.5" y="502.6" font-size="11" font-weight="normal" text-anchor="middle" fill="#222" >50</text><text x="611.0" y="502.6" font-size="11" font-weight="normal" text-anchor="middle" fill="#222" >100</text><text transform="translate(434.6,370.7) rotate(-90)" font-size="12" text-anchor="middle" fill="#222" stroke="#222" stroke-width="0.08">Count</text><text x="551.3" y="516.4" font-size="11.5" font-weight="normal" text-anchor="start" fill="#222" >PI PE-A</text><g fill="#222" font-size="12"><text x="646.7" y="517.6">(</text><text x="652.8" y="517.6">x</text><text x="661.1" y="517.6">1</text><text x="667.3" y="517.6">0</text><text x="674.0" y="512.2" font-size="8">4</text><text x="679.7" y="517.6">)</text></g><path d="M504.2 396.3H548.5M504.2 391.3V401.3M548.5 391.3V401.3" stroke="#f2a12e" stroke-width="1.3" fill="none"/><path d="M548.5 389.8H583.5M548.5 384.8V394.8M583.5 384.8V394.8" stroke="#9a4a8a" stroke-width="1.3" fill="none"/><path d="M583.5 396.3H627.8M583.5 391.3V401.3M627.8 391.3V401.3" stroke="#74a83a" stroke-width="1.3" fill="none"/><text x="481.5" y="302.1" font-size="11.5" font-weight="normal" text-anchor="start" fill="#eba030" stroke="#eba030" stroke-width="0.3">G1(16,53 %)</text><text x="550" y="377.3" font-size="11.5" font-weight="normal" text-anchor="start" fill="#963f80" stroke="#963f80" stroke-width="0.3">S(6,39 %)</text><rect x="606.5" y="333" width="9.5" height="14.5" fill="#fff" opacity="0.55"/><text x="583.6" y="345.5" font-size="11.5" font-weight="normal" text-anchor="start" fill="#6a9e2c" stroke="#6a9e2c" stroke-width="0.3">G2-M(75,44 %)</text></svg>
</body></html>
